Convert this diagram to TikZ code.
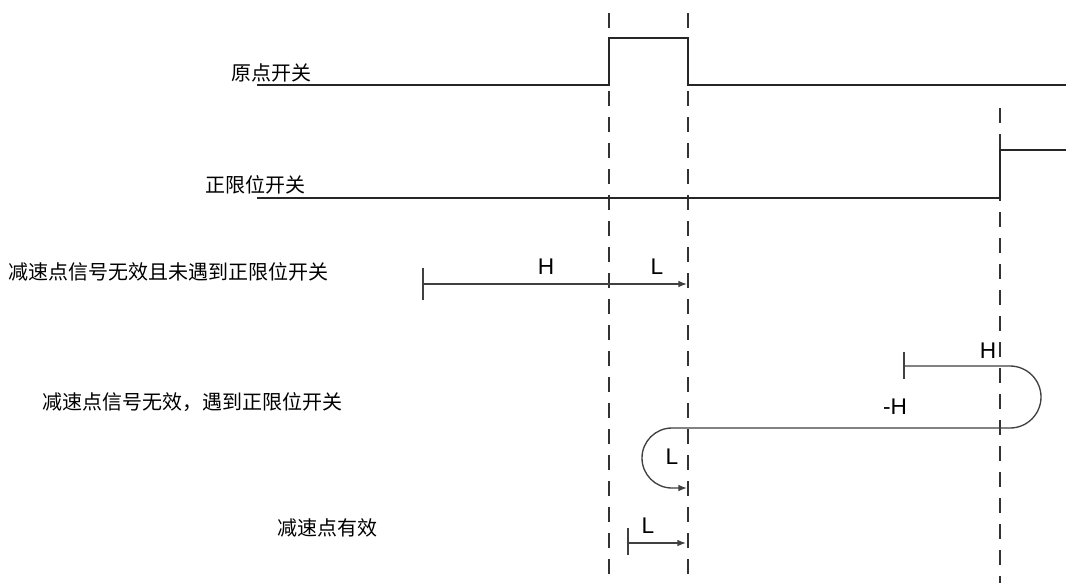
\documentclass[tikz,border=0pt]{standalone}
\usepackage{fontspec}
\setmainfont{Liberation Sans}
\newfontfamily\cjk{Noto Sans CJK SC}
\usetikzlibrary{arrows.meta}
\begin{document}
\begin{tikzpicture}[x=0.75pt,y=-0.75pt,
 wave/.style={draw=black!85,line width=1.1pt},
 guide/.style={draw=black!80,line width=0.9pt,dash pattern=on 11.25pt off 8.25pt},
 move/.style={draw=black!75,line width=1pt},
 movearrow/.style={move,-{Latex[length=6.5pt,width=5pt]}},
 lbl/.style={font=\cjk\fontsize{15pt}{18pt}\selectfont,anchor=west,inner sep=0pt},
 hl/.style={font=\fontsize{17pt}{20pt}\selectfont,inner sep=0pt}]
\useasboundingbox (0,0) rectangle (1066,583);
\fill[white] (0,0) rectangle (1066,583);

% guide lines
\coordinate (g1t) at (609,13); \coordinate (g1b) at (609,583);
\coordinate (g2t) at (688,13); \coordinate (g2b) at (688,583);
\coordinate (g3t) at (1000,108); \coordinate (g3b) at (1000,583);
\draw[guide] (g1t) -- (g1b);
\draw[guide] (g2t) -- (g2b);
\draw[guide] (g3t) -- (g3b);

% labels
\node[lbl] (yd) at (231,73) {原点开关};
\node[lbl] (zx) at (205,185) {正限位开关};
\node[lbl] (c1) at (8,272) {减速点信号无效且未遇到正限位开关};
\node[lbl] (c2) at (42,402) {减速点信号无效，遇到正限位开关};
\node[lbl] (c3) at (277,528) {减速点有效};

% origin switch waveform
\coordinate (w1a) at (257,85);
\coordinate (w1b) at (609,85);
\coordinate (w1c) at (609,38);
\coordinate (w1d) at (688,38);
\coordinate (w1e) at (688,85);
\coordinate (w1f) at (1066,85);
\draw[wave] (w1a) -- (w1b) -- (w1c) -- (w1d) -- (w1e) -- (w1f);

% positive limit switch waveform
\coordinate (w2a) at (257,198);
\coordinate (w2b) at (1000,198);
\coordinate (w2c) at (1000,150);
\coordinate (w2d) at (1066,150);
\draw[wave] (w2a) -- (w2b) -- (w2c) -- (w2d);

% case 1
\coordinate (t1a) at (423,268); \coordinate (t1b) at (423,300);
\coordinate (a1s) at (423,284); \coordinate (a1e) at (687,284);
\draw[move] (t1a) -- (t1b);
\draw[movearrow] (a1s) -- (a1e);
\node[hl] (h1) at (546,267) {H};
\node[hl] (l1) at (657,267) {L};

% case 2
\coordinate (t2a) at (904,352); \coordinate (t2b) at (904,379);
\coordinate (p0) at (904,366);
\coordinate (p1) at (1010,366);
\coordinate (p2) at (1041,397);
\coordinate (p3) at (1010,428);
\coordinate (p4) at (672,428);
\coordinate (p5) at (642,458);
\coordinate (p6) at (672,488);
\coordinate (p7) at (687,488);
\draw[move] (t2a) -- (t2b);
\draw[movearrow] (p0) -- (p1)
  .. controls (1027.1,366) and (1041,379.9) .. (p2)
  .. controls (1041,414.1) and (1027.1,428) .. (p3)
  -- (p4)
  .. controls (655.4,428) and (642,441.4) .. (p5)
  .. controls (642,474.6) and (655.4,488) .. (p6)
  -- (p7);
\node[hl] (h2) at (988,351) {H};
\node[hl] (h3) at (895,407) {-H};
\node[hl] (l2) at (672,457) {L};

% case 3
\coordinate (t3a) at (628,528); \coordinate (t3b) at (628,555);
\coordinate (a3s) at (628,543); \coordinate (a3e) at (686,543);
\draw[move] (t3a) -- (t3b);
\draw[movearrow] (a3s) -- (a3e);
\node[hl] (l3) at (648,526) {L};
\end{tikzpicture}
\end{document}
